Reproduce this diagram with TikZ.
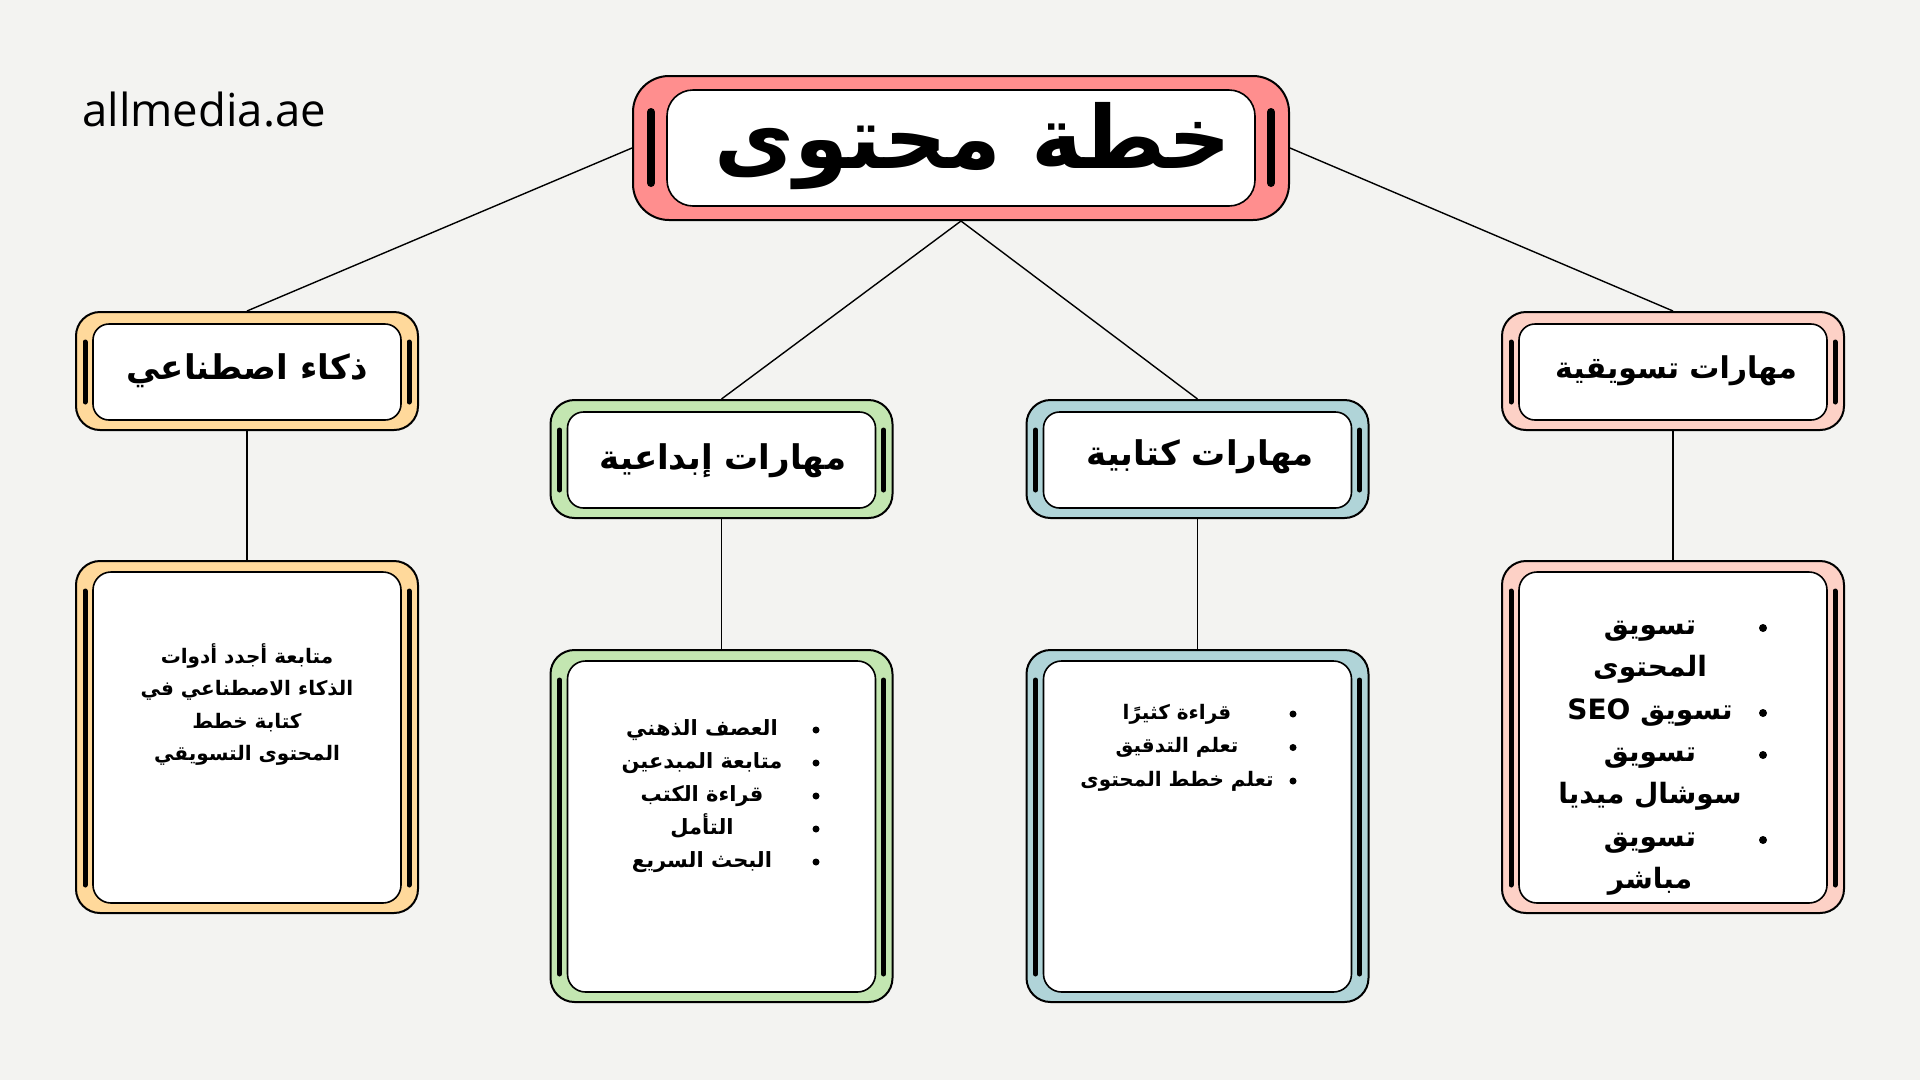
\documentclass[tikz,border=0pt]{standalone}
\usepackage{fontspec}
\setmainfont{Open Sans}
\newfontfamily\arabicfont[Script=Arabic]{DejaVu Sans}
\TeXXeTstate=1
\definecolor{paper}{HTML}{F3F3F1}
\definecolor{salmon}{HTML}{FF8E8E}
\definecolor{sand}{HTML}{FFD99B}
\definecolor{mint}{HTML}{C3E6B1}
\definecolor{sky}{HTML}{B0D4D8}
\definecolor{blush}{HTML}{FDD1C6}
\tikzset{
  outerbox/.style={draw=black, line width=2pt, fill=#1, inner sep=0pt, rounded corners=24pt},
  headbox/.style={outerbox=#1, minimum width=342pt, minimum height=118pt},
  listbox/.style={outerbox=#1, minimum width=342pt, minimum height=352pt},
  link/.style={draw=black, line width=1.4pt},
  headfont/.style={font=\arabicfont\bfseries\fontsize{#1}{40}\selectfont, inner sep=0pt},
  headfont/.default=34,
  itemfont/.style={font=\arabicfont\bfseries\fontsize{#1}{26}\selectfont, inner sep=0pt, text height=16pt, text depth=6pt},
  itemfont/.default=20.5,
  bigitem/.style={font=\arabicfont\bfseries\fontsize{28}{32}\selectfont, inner sep=0pt, text height=20pt, text depth=8pt},
  dot/.style={fill=black}
}
% node, insetx, insettop, insetbottom, barx, bartop, barbottom, barwidth, inner radius
\newcommand\deco[9]{%
  \draw[fill=white, line width=1.6pt, rounded corners=#9] ([shift={(#2,#3)}]#1.north west) rectangle ([shift={(-#2,-#4)}]#1.south east);
  \draw[line width=#8, line cap=round] ([shift={(#5,#6)}]#1.north west) -- ([shift={(#5,-#7)}]#1.south west);
  \draw[line width=#8, line cap=round] ([shift={(-#5,#6)}]#1.north east) -- ([shift={(-#5,-#7)}]#1.south east);
}
\begin{document}
\begin{tikzpicture}[x=1pt,y=-1pt]
\useasboundingbox[fill=paper] (0,0) rectangle (1920,1080);

% boxes
\node[outerbox=salmon, rounded corners=36pt, minimum width=656pt, minimum height=144pt] (top) at (961,148) {};
\deco{top}{35}{15}{15}{19}{37}{38}{8pt}{26pt}

\node[headbox=sand] (a2) at (247,371) {};
\node[headbox=mint] (b2) at (721.5,459) {};
\node[headbox=sky] (c2) at (1197.5,459) {};
\node[headbox=blush] (d2) at (1673,371) {};
\foreach \n in {a2,b2,c2,d2} {\deco{\n}{18}{13}{11}{10}{31}{29}{5pt}{16pt}}

\node[listbox=sand] (a3) at (247,737) {};
\node[listbox=mint] (b3) at (721.5,826) {};
\node[listbox=sky] (c3) at (1197.5,826) {};
\node[listbox=blush] (d3) at (1673,737) {};
\foreach \n in {a3,b3,c3,d3} {\deco{\n}{18}{12}{11}{10}{31}{29}{5pt}{18pt}}

% connectors
\draw[link] (top.west) -- (a2.north);
\draw[link] (top.east) -- (d2.north);
\draw[link] (top.south) -- (b2.north);
\draw[link] (top.south) -- (c2.north);
\draw[link] (a2.south) -- (a3.north);
\draw[link] (b2.south) -- (b3.north);
\draw[link] (c2.south) -- (c3.north);
\draw[link] (d2.south) -- (d3.north);

% logo
\node[anchor=base west, inner sep=0pt, font=\fontsize{45.5}{50}\selectfont] (logo) at (82,126) {allmedia.ae};

% title
\node[inner sep=0pt, font=\arabicfont\bfseries\fontsize{87}{100}\selectfont] (title) at (973,146) {\beginR خطة محتوى\endR};

% headings
\node[headfont] (a2t) at (247,371) {\beginR ذكاء اصطناعي\endR};
\node[headfont] (b2t) at (723,461) {\beginR مهارات إبداعية\endR};
\node[headfont] (c2t) at (1200,457) {\beginR مهارات كتابية\endR};
\node[headfont=30] (d2t) at (1676,371) {\beginR مهارات تسويقية\endR};

% AI text
\foreach \t [count=\i] in {متابعة أجدد أدوات, الذكاء الاصطناعي في, كتابة خطط, المحتوى التسويقي}
  \node[itemfont=20] (a3l\i) at (247,{658+32.5*(\i-1)}) {\beginR\t\endR};

% creative list
\foreach \t [count=\i] in {العصف الذهني, متابعة المبدعين, قراءة الكتب, التأمل, البحث السريع} {
  \node[itemfont=21] (b3l\i) at (702,{730+33*(\i-1)}) {\beginR\t\endR};
  \fill[dot] (816,{730+33*(\i-1)}) circle (3.5);
}

% writing list
\foreach \t [count=\i] in {قراءة كثيرًا, تعلم التدقيق, تعلم خطط المحتوى} {
  \node[itemfont=20] (c3l\i) at (1177,{714+33.5*(\i-1)}) {\beginR\t\endR};
  \fill[dot] (1293,{714+33.5*(\i-1)}) circle (3.5);
}

% marketing list
\node[bigitem] (d3l1) at (1650,628) {\beginR تسويق\endR};
\node[bigitem] (d3l2) at (1650,670) {\beginR المحتوى\endR};
\node[bigitem] (d3l3) at (1650,713) {\beginR تسويق \beginL SEO\endL\endR};
\node[bigitem] (d3l4) at (1650,755) {\beginR تسويق\endR};
\node[bigitem] (d3l5) at (1650,797) {\beginR سوشال ميديا\endR};
\node[bigitem] (d3l6) at (1650,840) {\beginR تسويق\endR};
\node[bigitem] (d3l7) at (1650,882) {\beginR مباشر\endR};
\foreach \y in {628,713,755,840} \fill[dot] (1763,\y) circle (4);
\end{tikzpicture}
\end{document}
